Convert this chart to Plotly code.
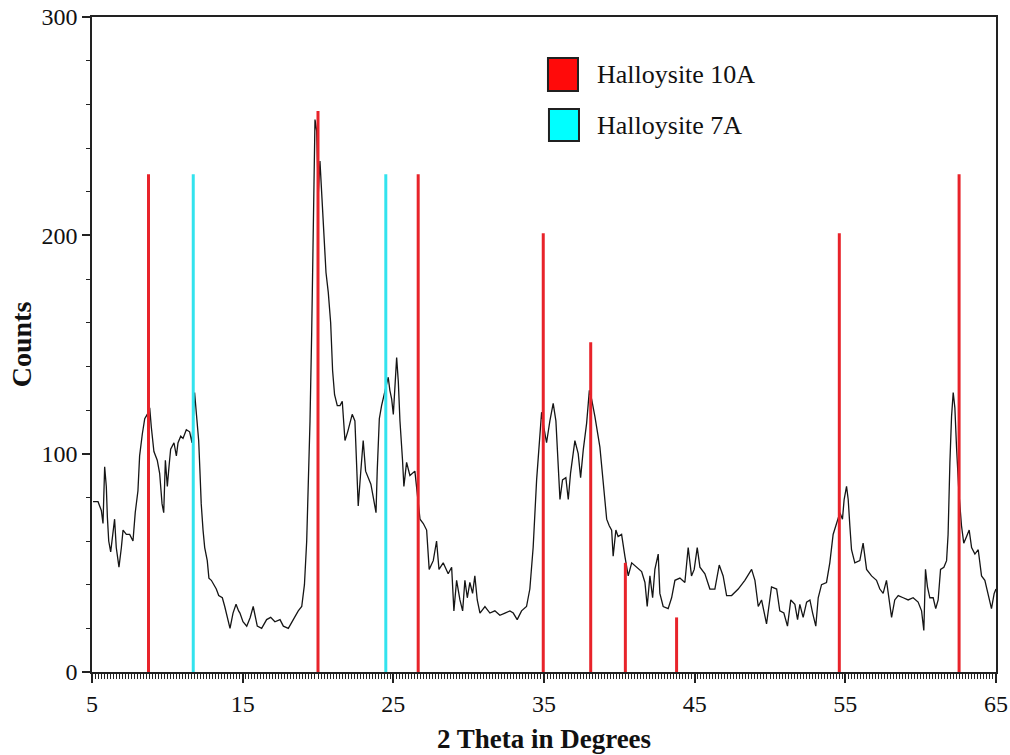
import plotly.graph_objects as go

# ---- data ----
two_theta = [5.07, 5.40, 5.62, 5.73, 5.84, 5.95, 6.02, 6.11, 6.24, 6.39, 6.50, 6.61, 6.79, 6.95, 7.06, 7.28,
             7.50, 7.72, 7.87, 8.05, 8.16, 8.34, 8.50, 8.67, 8.83, 8.94, 9.11, 9.33, 9.49, 9.65, 9.76, 9.87,
             10.00, 10.11, 10.22, 10.44, 10.60, 10.71, 10.89, 11.04, 11.26, 11.48, 11.64, 11.81, 11.95, 12.08,
             12.17, 12.25, 12.37, 12.48, 12.65, 12.76, 12.92, 13.10, 13.25, 13.41, 13.65, 13.81, 14.02, 14.16,
             14.36, 14.56, 14.73, 14.82, 15.02, 15.27, 15.50, 15.70, 15.97, 16.26, 16.59, 16.86, 17.14, 17.48,
             17.70, 18.03, 18.36, 18.69, 18.92, 19.10, 19.25, 19.35, 19.47, 19.58, 19.69, 19.80, 19.91, 20.02,
             20.13, 20.24, 20.35, 20.53, 20.68, 20.84, 20.97, 21.10, 21.28, 21.46, 21.61, 21.79, 21.97, 22.12,
             22.27, 22.45, 22.56, 22.67, 22.83, 23.00, 23.16, 23.34, 23.51, 23.67, 23.85, 23.93, 24.07, 24.22,
             24.40, 24.55, 24.66, 24.77, 24.89, 25.00, 25.11, 25.22, 25.33, 25.44, 25.61, 25.70, 25.88, 26.10,
             26.43, 26.59, 26.77, 26.99, 27.21, 27.38, 27.65, 27.87, 28.03, 28.31, 28.64, 28.87, 29.02, 29.20,
             29.42, 29.60, 29.75, 29.91, 30.08, 30.26, 30.41, 30.57, 30.75, 31.08, 31.41, 31.74, 32.07, 32.41,
             32.74, 32.96, 33.22, 33.51, 33.84, 34.06, 34.28, 34.51, 34.68, 34.84, 34.99, 35.17, 35.39, 35.61,
             35.79, 35.94, 36.06, 36.23, 36.45, 36.61, 36.76, 37.05, 37.27, 37.43, 37.61, 37.83, 38.01, 38.16,
             38.38, 38.71, 38.98, 39.16, 39.33, 39.49, 39.59, 39.77, 39.92, 40.15, 40.37, 40.59, 40.82, 41.15,
             41.48, 41.70, 41.85, 42.03, 42.21, 42.36, 42.58, 42.69, 42.91, 43.24, 43.47, 43.69, 44.02, 44.35,
             44.57, 44.79, 44.97, 45.17, 45.35, 45.68, 46.01, 46.34, 46.63, 46.89, 47.12, 47.45, 47.89, 48.33,
             48.78, 49.00, 49.22, 49.44, 49.77, 50.10, 50.44, 50.65, 50.92, 51.16, 51.38, 51.65, 51.83, 51.98,
             52.20, 52.43, 52.65, 52.83, 53.04, 53.20, 53.42, 53.75, 53.97, 54.19, 54.42, 54.64, 54.81, 54.92,
             55.08, 55.19, 55.30, 55.41, 55.63, 55.96, 56.18, 56.41, 56.74, 57.07, 57.29, 57.51, 57.73, 57.91,
             58.07, 58.28, 58.51, 58.84, 59.17, 59.50, 59.83, 60.06, 60.21, 60.32, 60.45, 60.61, 60.83, 61.00,
             61.16, 61.32, 61.54, 61.72, 61.82, 61.94, 62.05, 62.16, 62.27, 62.38, 62.54, 62.71, 62.86, 63.04,
             63.22, 63.38, 63.60, 63.82, 64.04, 64.26, 64.48, 64.70, 64.88, 65.00]
counts = [78, 78, 74, 68, 94, 85, 71, 60, 55, 65, 70, 57, 48, 57, 65, 63,
          63, 60, 73, 83, 99, 109, 116, 118, 121, 112, 101, 97, 91, 77, 73, 97,
          85, 94, 102, 105, 99, 105, 108, 107, 111, 110, 105, 128, 116, 106,
          91, 77, 65, 57, 51, 43, 42, 40, 38, 35, 34, 30, 24, 20,
          27, 31, 28, 27, 23, 21, 25, 30, 21, 20, 24, 25, 23, 24,
          21, 20, 24, 28, 30, 40, 60, 85, 115, 155, 218, 253, 248, 219,
          234, 218, 204, 183, 174, 160, 138, 127, 122, 122, 124, 106, 110, 114,
          118, 115, 98, 76, 91, 106, 92, 89, 86, 80, 73, 92, 116, 122,
          127, 132, 135, 129, 125, 118, 132, 144, 133, 115, 97, 85, 96, 90,
          92, 80, 70, 68, 65, 47, 51, 60, 47, 50, 45, 48, 28, 42,
          33, 28, 42, 34, 41, 36, 44, 33, 27, 30, 27, 28, 26, 27,
          28, 27, 24, 28, 30, 38, 57, 88, 106, 119, 112, 105, 115, 123,
          115, 94, 79, 88, 89, 79, 91, 106, 100, 89, 102, 114, 129, 125,
          117, 103, 85, 70, 67, 65, 53, 65, 62, 63, 53, 44, 50, 48,
          46, 41, 30, 44, 34, 47, 54, 36, 30, 29, 34, 42, 43, 41,
          57, 44, 47, 57, 48, 45, 38, 38, 49, 44, 35, 35, 38, 42,
          47, 42, 30, 33, 22, 39, 38, 28, 27, 21, 33, 31, 24, 31,
          25, 32, 33, 27, 21, 34, 40, 41, 50, 63, 68, 73, 70, 79,
          85, 79, 67, 56, 50, 51, 59, 47, 44, 42, 38, 36, 42, 33,
          25, 33, 35, 34, 33, 34, 32, 28, 19, 47, 39, 34, 34, 29,
          33, 47, 48, 51, 63, 96, 117, 128, 121, 103, 82, 67, 59, 62,
          65, 57, 54, 56, 44, 42, 36, 29, 36, 38]

h10_pos = [8.75, 20.0, 26.65, 34.95, 38.1, 40.4, 43.8, 54.6, 62.55]
h10_height = [228, 257, 228, 201, 151, 50, 25, 201, 228]
h7_pos = [11.72, 24.5]
h7_height = [228, 228]

legend_labels = ["Halloysite 10A", "Halloysite 7A"]
x_tick_vals = [5, 15, 25, 35, 45, 55, 65]
y_tick_vals = [0, 100, 200, 300]

RED = "#e8232a"
CYAN = "#33e3ee"
FONT = "Liberation Serif, Times New Roman, serif"


def sticks(pos, hts):
    xs, ys = [], []
    for p, h in zip(pos, hts):
        xs += [p, p, None]
        ys += [0, h, None]
    return xs, ys


fig = go.Figure()
fig.add_trace(go.Scatter(x=two_theta, y=counts, mode="lines",
                         line=dict(color="#151515", width=1.3),
                         name="Pattern", showlegend=False))
x10, y10 = sticks(h10_pos, h10_height)
fig.add_trace(go.Scatter(x=x10, y=y10, mode="lines", line=dict(color=RED, width=3),
                         name=legend_labels[0], showlegend=False))
x7, y7 = sticks(h7_pos, h7_height)
fig.add_trace(go.Scatter(x=x7, y=y7, mode="lines", line=dict(color=CYAN, width=3),
                         name=legend_labels[1], showlegend=False))

# manual legend (large square swatches)
legend_items = [(legend_labels[0], "#ff0a0a", 0.5044, 0.887, 0.9374, 0.9115),
                (legend_labels[1], "#00ffff", 0.5055, 0.8107, 0.8595, 0.8336)]
for label, col, x0, y0, y1, ty in legend_items:
    fig.add_shape(type="rect", xref="paper", yref="paper",
                  x0=x0, x1=x0 + 0.0332, y0=y0, y1=y1,
                  fillcolor=col, line=dict(color="#202020", width=2))
    fig.add_annotation(xref="paper", yref="paper", x=0.5564, y=ty,
                       xanchor="left", yanchor="middle", text=label, showarrow=False,
                       font=dict(family=FONT, size=26, color="#111111"))

fig.update_layout(
    width=1010, height=755,
    margin=dict(l=92, r=14, t=17, b=83),
    paper_bgcolor="white", plot_bgcolor="white",
    font=dict(family=FONT, size=24, color="#111111"),
    showlegend=False,
    xaxis=dict(range=[5, 65], tickmode="array", tickvals=x_tick_vals,
               ticks="outside", ticklen=9, tickwidth=1.5, tickcolor="#222",
               minor=dict(dtick=0.2, tick0=5, ticks="outside", ticklen=5, tickwidth=1, tickcolor="#222"),
               showline=True, linecolor="#222", linewidth=1.5, mirror=True,
               showgrid=False, zeroline=False, automargin=False,
               tickfont=dict(family=FONT, size=24, color="#111"),
               title=dict(text="<b>2 Theta in Degrees</b>", standoff=14,
                          font=dict(family=FONT, size=27, color="#111"))),
    yaxis=dict(range=[0, 300], tickmode="array", tickvals=y_tick_vals,
               ticks="outside", ticklen=8, tickwidth=1.5, tickcolor="#222",
               minor=dict(dtick=20, tick0=0, ticks="outside", ticklen=4, tickwidth=1.2, tickcolor="#222"),
               showline=True, linecolor="#222", linewidth=1.5, mirror=True,
               showgrid=False, zeroline=False, automargin=False,
               tickfont=dict(family=FONT, size=24, color="#111"),
               title=dict(text="<b>Counts</b>", standoff=2,
                          font=dict(family=FONT, size=28, color="#111"))),
)

# remove the default page margin so the figure fills the window exactly
fig.write_html("out.html",
               config={"displayModeBar": False},
               post_script="document.body.style.margin='0';document.body.style.overflow='hidden';")
